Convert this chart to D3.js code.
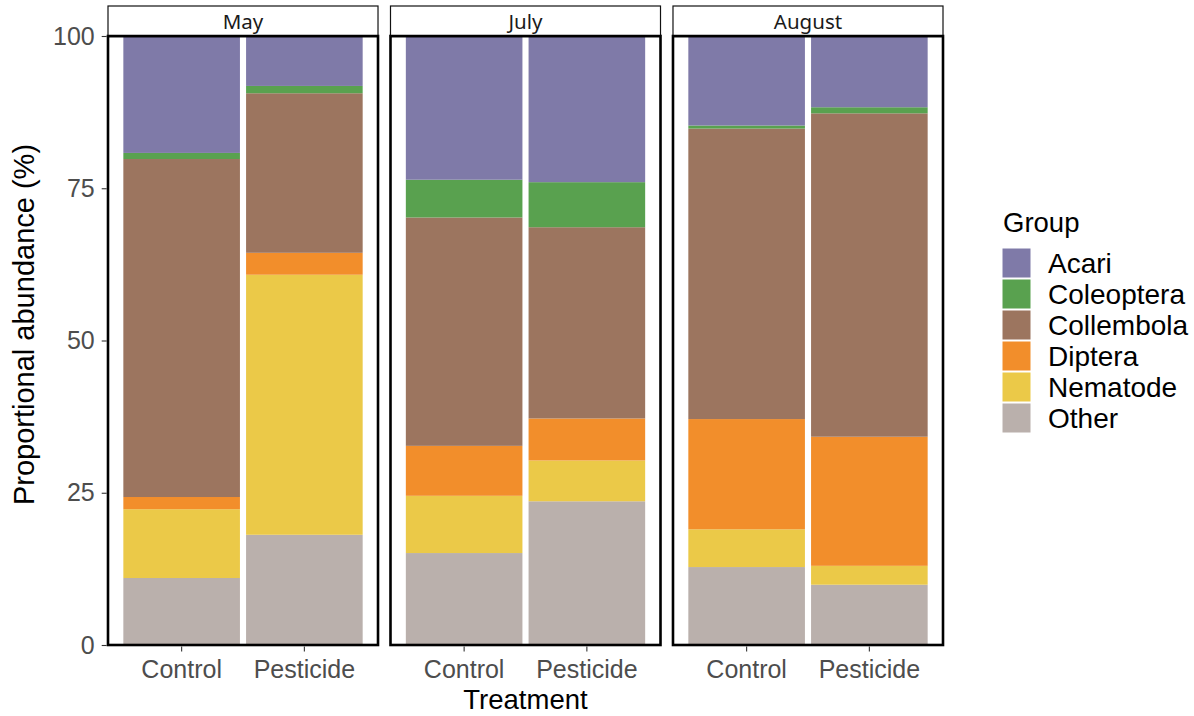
<!DOCTYPE html>
<html><head><meta charset="utf-8">
<script src="https://cdn.jsdelivr.net/npm/d3@7"></script>
<style>body{margin:0;background:#fff}</style>
</head><body>
<svg id="c" width="1194" height="716"></svg>
<script>
const months = ["May", "July", "August"];
const treatments = ["Control", "Pesticide"];
const groups = ["Acari", "Coleoptera", "Collembola", "Diptera", "Nematode", "Other"];
const colors = ["#7F7AA8", "#59A14F", "#9C755F", "#F28E2B", "#EBC948", "#BAB0AC"];
const yTicks = [0, 25, 50, 75, 100];
// values per group, order: May-Control, May-Pesticide, July-Control, July-Pesticide, August-Control, August-Pesticide
const acari      = [19.2, 8.2, 23.6, 24.0, 14.7, 11.7];
const coleoptera = [1.0, 1.2, 6.2, 7.4, 0.5, 1.0];
const collembola = [55.5, 26.2, 37.5, 31.4, 47.7, 53.1];
const diptera    = [2.0, 3.6, 8.2, 6.9, 18.1, 21.2];
const nematode   = [11.3, 42.7, 9.4, 6.7, 6.2, 3.1];
const other      = [11.0, 18.1, 15.1, 23.6, 12.8, 9.9];

const series = [acari, coleoptera, collembola, diptera, nematode, other];
const rows = [];
months.forEach((m, mi) => treatments.forEach((t, ti) => {
  const idx = mi * 2 + ti;
  const r = {month: m, treatment: t};
  groups.forEach((g, gi) => r[g] = series[gi][idx]);
  rows.push(r);
}));

const svg = d3.select("#c");
const font = "'Liberation Sans', Arial, sans-serif";
const color = d3.scaleOrdinal().domain(groups).range(colors);

const fx = d3.scaleBand().domain(months).range([108, 943]).paddingInner(0.0442);
const x = d3.scaleBand().domain(treatments).range([0, fx.bandwidth()]).paddingInner(0.05).paddingOuter(0.125);
const y = d3.scaleLinear().domain([0, 100]).range([645, 36]);

// stack: Other at bottom, Acari at top
const stackOrder = groups.slice().reverse();
const stacked = d3.stack().keys(stackOrder)(rows);

const panels = svg.selectAll("g.panel").data(months).join("g")
  .attr("class", "panel").attr("transform", d => `translate(${fx(d)},0)`);

stacked.forEach(layer => {
  panels.each(function(m) {
    d3.select(this).selectAll(null)
      .data(layer.filter(d => d.data.month === m))
      .join("rect")
      .attr("x", d => x(d.data.treatment))
      .attr("width", x.bandwidth())
      .attr("y", d => y(d[1]))
      .attr("height", d => y(d[0]) - y(d[1]))
      .attr("fill", color(layer.key));
  });
});

// panel border
panels.append("rect").attr("x", 0).attr("y", y(100)).attr("width", fx.bandwidth())
  .attr("height", y(0) - y(100)).attr("fill", "none").attr("stroke", "#000").attr("stroke-width", 2.6);

// strips
panels.append("rect").attr("x", 0).attr("y", 6).attr("width", fx.bandwidth()).attr("height", y(100) - 6)
  .attr("fill", "#fff").attr("stroke", "#111").attr("stroke-width", 1.2);
panels.append("line").attr("x1", 0).attr("x2", fx.bandwidth()).attr("y1", y(100)).attr("y2", y(100))
  .attr("stroke", "#000").attr("stroke-width", 2.6);
panels.append("text").attr("x", fx.bandwidth() / 2).attr("y", 29).attr("text-anchor", "middle")
  .attr("font-family", "'Noto Sans', 'Open Sans', sans-serif").attr("font-size", 20.5).attr("fill", "#1a1a1a")
  .text(d => d);

// x axes
panels.each(function() {
  const g = d3.select(this).append("g").attr("transform", `translate(0,${y(0) + 1.5})`)
    .call(d3.axisBottom(x).tickSize(5).tickSizeOuter(0).tickPadding(8.5));
  g.select(".domain").remove();
  g.selectAll("line").attr("stroke", "#333").attr("stroke-width", 1.1);
  g.selectAll("text").attr("font-family", font).attr("font-size", 25).attr("fill", "#4d4d4d");
});

// y axis
const ya = svg.append("g").attr("transform", `translate(${fx(months[0]) - 1.3},0)`)
  .call(d3.axisLeft(y).tickValues(yTicks).tickSize(5).tickSizeOuter(0).tickPadding(7));
ya.select(".domain").remove();
ya.selectAll("line").attr("stroke", "#333").attr("stroke-width", 1.1);
ya.selectAll("text").attr("font-family", font).attr("font-size", 25).attr("fill", "#4d4d4d");

// axis titles
svg.append("text").attr("x", (108 + 943) / 2).attr("y", 709).attr("text-anchor", "middle")
  .attr("font-family", font).attr("font-size", 27.5).attr("fill", "#000").text("Treatment");
svg.append("text").attr("transform", `translate(34,${(6 + 645) / 2 - 1}) rotate(-90)`).attr("text-anchor", "middle")
  .attr("font-family", font).attr("font-size", 29).attr("fill", "#000").text("Proportional abundance (%)");

// legend
const lg = svg.append("g").attr("transform", "translate(1002,0)");
lg.append("text").attr("x", 1).attr("y", 232).attr("font-family", font).attr("font-size", 27.5).attr("fill", "#000").text("Group");
const items = lg.selectAll("g.item").data(groups).join("g").attr("class", "item")
  .attr("transform", (d, i) => `translate(0,${248 + i * 31})`);
items.append("rect").attr("width", 29).attr("height", 30).attr("fill", d => color(d))
  .attr("stroke", "#fff").attr("stroke-width", 1);
items.append("text").attr("x", 46).attr("y", 15).attr("dy", "0.36em")
  .attr("font-family", font).attr("font-size", 28).attr("fill", "#000").text(d => d);
</script>
</body></html>
